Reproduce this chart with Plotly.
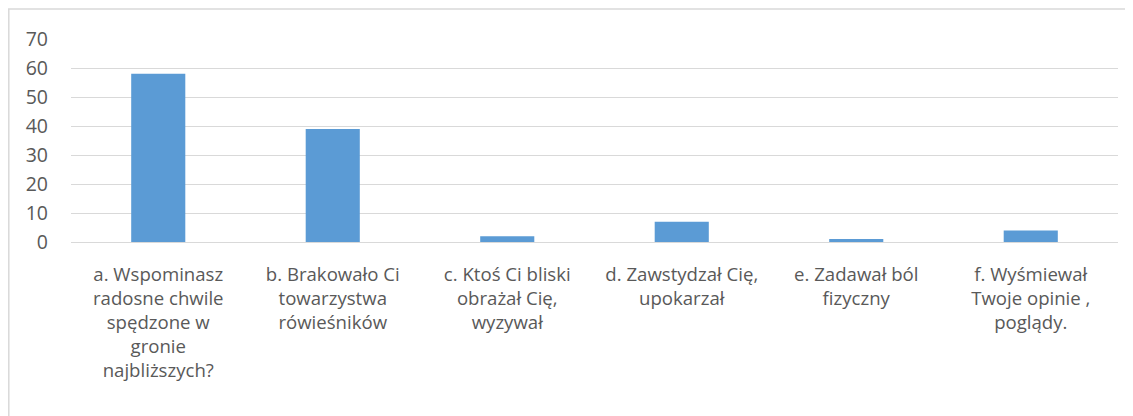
import plotly.graph_objects as go

categories = [
    "a. Wspominasz<br>radosne chwile<br>spędzone w<br>gronie<br>najbliższych?",
    "b. Brakowało Ci<br>towarzystwa<br>rówieśników",
    "c. Ktoś Ci bliski<br>obrażał Cię,<br>wyzywał",
    "d. Zawstydzał Cię,<br>upokarzał",
    "e. Zadawał ból<br>fizyczny",
    "f. Wyśmiewał<br>Twoje opinie ,<br>poglądy.",
]
values = [58, 39, 2, 7, 1, 4]
y_ticks = [0, 10, 20, 30, 40, 50, 60, 70]

# page body has 8px margin, so the figure starts at (8, 8)
W, H = 1125, 408
ml, mr, mt, mb = 63, 15, 31, 174
pw = W - ml - mr
ph = H - mt - mb

fig = go.Figure(go.Bar(
    x=categories, y=values,
    marker=dict(color="#5B9BD5", line=dict(width=0)),
    width=0.31,
))

fig.update_layout(
    width=W, height=H,
    margin=dict(l=ml, r=mr, t=mt, b=mb, pad=0),
    paper_bgcolor="white", plot_bgcolor="white",
    font=dict(family="Open Sans, Liberation Sans, sans-serif", size=18.6, color="#595959"),
    showlegend=False,
    xaxis=dict(showgrid=False, showline=False, ticks="", tickfont=dict(size=18.6, color="#595959"),
               tickangle=0, automargin=False, ticklabelstandoff=19),
    yaxis=dict(range=[0, 70], tickvals=y_ticks, showgrid=True, gridcolor="#D9D9D9", gridwidth=1,
               zeroline=True, zerolinecolor="#D9D9D9", zerolinewidth=1, showline=False,
               ticks="", ticklabelstandoff=22, tickfont=dict(size=19.5, color="#595959"),
               automargin=False),
    shapes=[
        dict(type="line", xref="paper", yref="paper",
             x0=(0.8 - ml) / pw, x1=(0.8 - ml) / pw,
             y0=(H - mb - 1) / ph, y1=(H - mb - 430) / ph,
             line=dict(color="#D9D9D9", width=1.5)),
        dict(type="line", xref="paper", yref="paper",
             x0=(0 - ml) / pw, x1=(1140 - ml) / pw,
             y0=(H - mb - 1) / ph, y1=(H - mb - 1) / ph,
             line=dict(color="#D9D9D9", width=1.5)),
    ],
)

fig.write_html("out.html")
